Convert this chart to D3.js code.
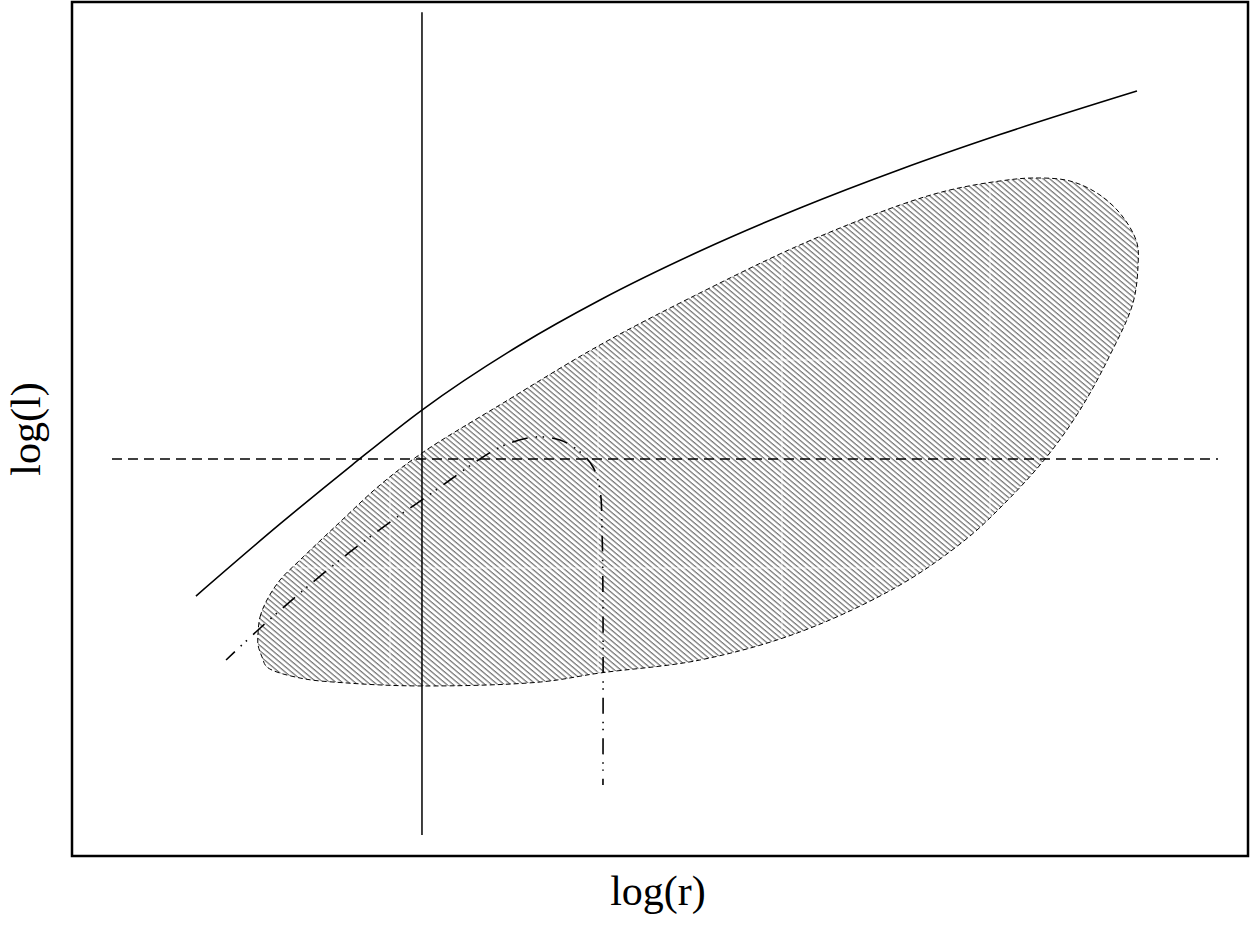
<!DOCTYPE html>
<html>
<head>
<meta charset="utf-8">
<script src="https://cdn.jsdelivr.net/npm/d3@7"></script>
<style>
    body { margin: 0; background: #fff; }
    svg { display: block; }
</style>
</head>
<body>
<div id="chart"></div>
<script>
// axis titles
const xTitle = "log(r)";
const yTitle = "log(l)";

// vertical reference line (x value, y start, y end)
const vLineX = 2.976;
const vLineY = [0.246, 9.88];

// horizontal dashed reference line (y value, x start, x end)
const hLineY = 4.649;
const hLineX = [0.34, 9.745];

// upper solid curve
const upperX = [1.054, 1.769, 2.381, 2.976, 3.810, 4.490, 5.340, 6.190, 7.041, 7.891, 9.056];
const upperY = [3.044, 3.888, 4.578, 5.222, 5.984, 6.511, 7.084, 7.588, 8.039, 8.448, 8.958];

// dash-dot track
const trackX = [1.310, 1.582, 1.939, 2.364, 2.789, 2.976, 3.214, 3.469, 3.682, 3.937, 4.150, 4.320, 4.430, 4.490, 4.507, 4.515, 4.515];
const trackY = [2.295, 2.646, 3.080, 3.560, 3.993, 4.169, 4.403, 4.649, 4.813, 4.906, 4.871, 4.731, 4.555, 4.286, 3.817, 2.998, 0.831];

// hatched region outline
const regionX = [1.582, 1.599, 1.658, 1.769, 1.939, 2.279, 2.619, 2.976, 3.665, 4.490, 5.340, 6.190, 7.041, 7.466, 7.891, 8.172, 8.486, 8.741, 8.937, 9.056, 9.065, 9.022, 8.827, 8.571, 8.274, 7.891, 7.594, 7.041, 6.190, 5.340, 4.490, 3.980, 2.976, 2.338, 1.939, 1.658, 1.616, 1.582];
const regionY = [2.611, 2.799, 2.998, 3.232, 3.466, 3.911, 4.344, 4.719, 5.304, 5.984, 6.593, 7.155, 7.623, 7.799, 7.904, 7.939, 7.904, 7.740, 7.482, 7.178, 6.920, 6.475, 5.867, 5.222, 4.649, 4.075, 3.700, 3.173, 2.623, 2.295, 2.143, 2.037, 1.991, 2.026, 2.084, 2.213, 2.330, 2.471];

// faint seams in the hatching
const seamX = [2.704, 4.473, 6.037, 7.806];
const seamY = [3.372, 5.808];

const W = 1252, H = 925;
const margin = { top: 2, right: 4, bottom: 69, left: 72 };
const width = W - margin.left - margin.right,
    height = H - margin.top - margin.bottom;

const svg = d3.select("#chart")
    .append("svg")
    .attr("width", W)
    .attr("height", H)
    .style("font-family", "'Liberation Serif', 'DejaVu Serif', serif");

const g = svg.append("g")
    .attr("transform", `translate(${margin.left},${margin.top})`);

/** scales */
const xScale = d3.scaleLinear().domain([0, 10]).range([0, width]);
const yScale = d3.scaleLinear().domain([0, 10]).range([height, 0]);

const zip = (xs, ys) => xs.map((x, i) => [x, ys[i]]);

/** hatch pattern */
const defs = svg.append("defs");
defs.append("pattern")
    .attr("id", "hatch")
    .attr("patternUnits", "userSpaceOnUse")
    .attr("width", 4.1)
    .attr("height", 4.1)
    .attr("patternTransform", "rotate(-50)")
    .append("line")
    .attr("x1", 1).attr("y1", 0)
    .attr("x2", 1).attr("y2", 4.1)
    .attr("stroke", "#6e6e6e")
    .attr("stroke-width", 1.2);

/* hatched region */
const area = d3.line()
    .x(d => xScale(d[0]))
    .y(d => yScale(d[1]))
    .curve(d3.curveCatmullRomClosed);

const regionPath = area(zip(regionX, regionY));

defs.append("clipPath")
    .attr("id", "regionClip")
    .append("path")
    .attr("d", regionPath);

g.append("path")
    .attr("d", regionPath)
    .attr("fill", "url(#hatch)")
    .attr("stroke", "none");

// seams
const seams = g.append("g")
    .attr("clip-path", "url(#regionClip)")
    .attr("stroke", "#fff")
    .attr("stroke-opacity", 0.8)
    .attr("stroke-width", 1);
seams.selectAll(".seamx")
    .data(seamX)
    .enter().append("line")
    .attr("class", "seamx")
    .attr("x1", d => xScale(d)).attr("x2", d => xScale(d))
    .attr("y1", 0).attr("y2", height);
seams.selectAll(".seamy")
    .data(seamY)
    .enter().append("line")
    .attr("class", "seamy")
    .attr("y1", d => yScale(d)).attr("y2", d => yScale(d))
    .attr("x1", 0).attr("x2", width);

g.append("path")
    .attr("d", regionPath)
    .attr("fill", "none")
    .attr("stroke", "#000")
    .attr("stroke-width", 1)
    .attr("stroke-dasharray", "5,3");

/* reference lines */
g.append("line")
    .attr("x1", xScale(vLineX)).attr("x2", xScale(vLineX))
    .attr("y1", yScale(vLineY[0])).attr("y2", yScale(vLineY[1]))
    .attr("stroke", "#000")
    .attr("stroke-width", 1.5);

g.append("line")
    .attr("x1", xScale(hLineX[0])).attr("x2", xScale(hLineX[1]))
    .attr("y1", yScale(hLineY)).attr("y2", yScale(hLineY))
    .attr("stroke", "#000")
    .attr("stroke-width", 1.5)
    .attr("stroke-dasharray", "10,6");

/* curves */
const line = d3.line()
    .x(d => xScale(d[0]))
    .y(d => yScale(d[1]))
    .curve(d3.curveMonotoneX);

g.append("path")
    .attr("d", line(zip(upperX, upperY)))
    .attr("fill", "none")
    .attr("stroke", "#000")
    .attr("stroke-width", 1.6);

const track = d3.line()
    .x(d => xScale(d[0]))
    .y(d => yScale(d[1]))
    .curve(d3.curveCatmullRom);

const trackPath = g.append("path")
    .attr("d", track(zip(trackX, trackY)))
    .attr("fill", "none")
    .attr("stroke", "#000")
    .attr("stroke-width", 1.6)
    .attr("stroke-dasharray", "16,8,1.5,5.5,1.5,8");

// line the dash pattern up so a long dash closes the track
const period = 40, dashLen = 16;
const trackLen = trackPath.node().getTotalLength();
trackPath.attr("stroke-dashoffset", ((dashLen - trackLen) % period + period) % period);

/* frame */
g.append("rect")
    .attr("x", 0)
    .attr("y", 0)
    .attr("width", width)
    .attr("height", height)
    .attr("fill", "none")
    .attr("stroke", "#000")
    .attr("stroke-width", 2.5);

/* labels */
svg.append("text")
    .attr("x", margin.left + width / 2 - 2)
    .attr("y", 905)
    .attr("text-anchor", "middle")
    .attr("font-size", 42)
    .text(xTitle);

svg.append("text")
    .attr("transform", `translate(40, ${margin.top + height / 2}) rotate(-90)`)
    .attr("text-anchor", "middle")
    .attr("font-size", 42)
    .text(yTitle);
</script>
</body>
</html>
